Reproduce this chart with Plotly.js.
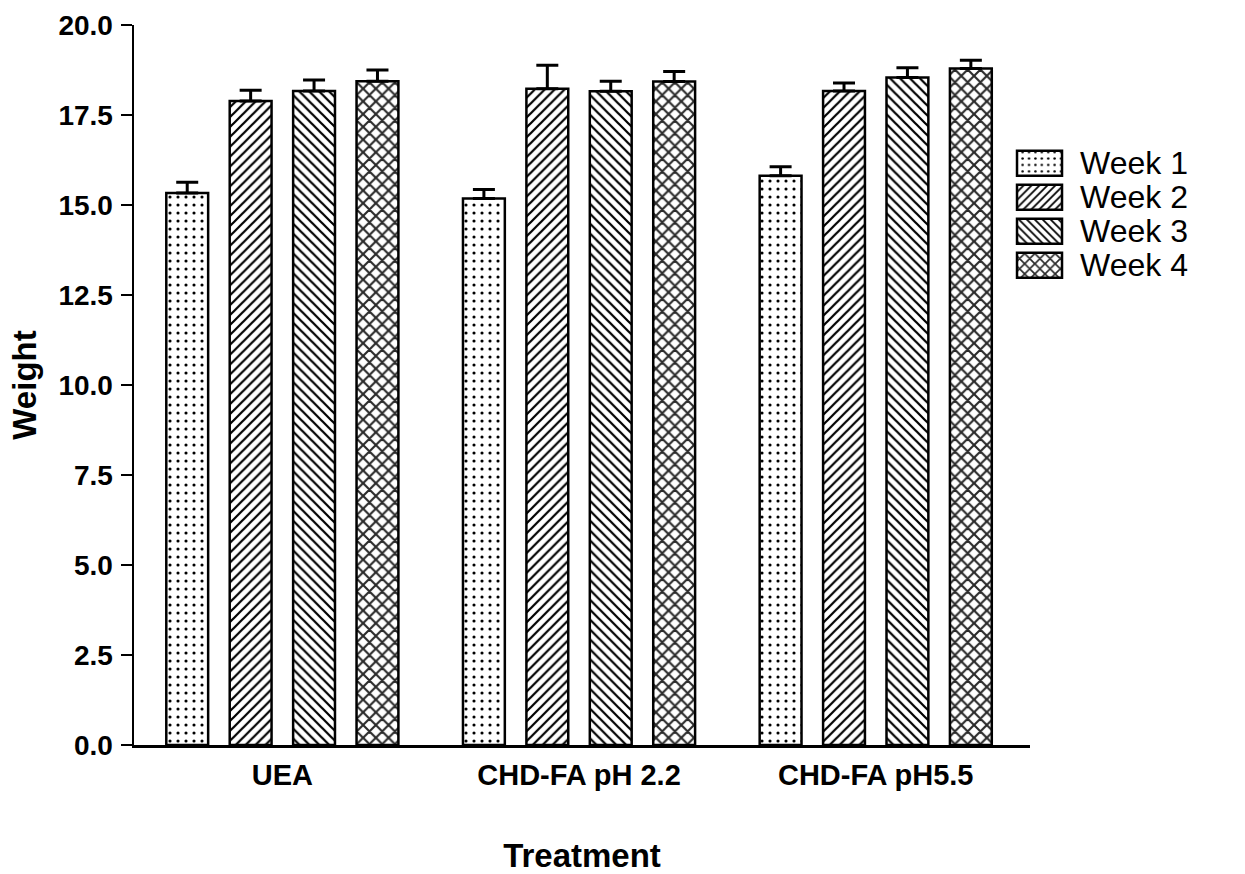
<!DOCTYPE html>
<html>
<head>
<meta charset="utf-8">
<script src="https://cdn.plot.ly/plotly-3.0.1.min.js"></script>
<style>
  html, body { margin: 0; padding: 0; background: #ffffff; }
  #chart { width: 1245px; height: 874px; }
</style>
</head>
<body>
<div id="chart"></div>
<script>
// Treatment groups on the category axis
const treatments = ['UEA', 'CHD-FA pH 2.2', 'CHD-FA pH5.5'];

// Series names
const weekNames = ['Week 1', 'Week 2', 'Week 3', 'Week 4'];

// Mean weight per treatment, one array per week
const week1 = [15.33, 15.18, 15.81];
const week2 = [17.89, 18.23, 18.17];
const week3 = [18.17, 18.16, 18.54];
const week4 = [18.44, 18.43, 18.79];

// Upper error (SEM) per treatment, one array per week
const week1Err = [0.30, 0.25, 0.25];
const week2Err = [0.30, 0.65, 0.22];
const week3Err = [0.30, 0.28, 0.27];
const week4Err = [0.31, 0.28, 0.23];

// Y-axis ticks
const yTicks = [0, 2.5, 5, 7.5, 10, 12.5, 15, 17.5, 20];
const yTickText = ['0.0', '2.5', '5.0', '7.5', '10.0', '12.5', '15.0', '17.5', '20.0'];

const seriesValues = [week1, week2, week3, week4];
const seriesErrors = [week1Err, week2Err, week3Err, week4Err];

// Fill pattern for each week
const patterns = [
  { shape: '.', size: 8, solidity: 0.12, fgcolor: '#000000' },
  { shape: '/', size: 7, solidity: 0.32, fgcolor: '#000000' },
  { shape: '\\', size: 7, solidity: 0.32, fgcolor: '#000000' },
  { shape: 'x', size: 9, solidity: 0.42, fgcolor: '#2a2a2a' }
];

const FONT = 'Liberation Sans, Arial, sans-serif';

const traces = seriesValues.map((vals, i) => ({
  type: 'bar',
  name: weekNames[i],
  x: treatments,
  y: vals,
  marker: {
    color: '#ffffff',
    line: { color: '#000000', width: 2.5 },
    pattern: patterns[i]
  },
  error_y: {
    type: 'data',
    symmetric: false,
    array: seriesErrors[i],
    arrayminus: vals.map(() => 0),
    color: '#000000',
    thickness: 3,
    width: 11
  },
  hoverinfo: 'x+y+name'
}));

const layout = {
  width: 1245,
  height: 874,
  paper_bgcolor: '#ffffff',
  plot_bgcolor: '#ffffff',
  margin: { l: 134, r: 215, t: 25, b: 129, pad: 0 },
  barmode: 'group',
  bargap: 0.145,
  bargroupgap: 0.34,
  showlegend: true,
  font: { family: FONT, color: '#000000' },
  xaxis: {
    type: 'category',
    range: [-0.5, 2.52],
    showline: true,
    linecolor: '#000000',
    linewidth: 2.5,
    ticks: '',
    showgrid: false,
    zeroline: false,
    tickfont: { family: FONT, size: 29, weight: 'bold', color: '#000000' },
    ticklabelstandoff: 3,
    automargin: false,
    title: {
      text: 'Treatment',
      font: { family: FONT, size: 33, weight: 'bold', color: '#000000' },
      standoff: 57
    }
  },
  yaxis: {
    range: [0, 20],
    tickvals: yTicks,
    ticktext: yTickText,
    showline: true,
    linecolor: '#000000',
    linewidth: 2.5,
    ticks: 'outside',
    ticklen: 11,
    tickwidth: 2.5,
    tickcolor: '#000000',
    showgrid: false,
    zeroline: false,
    tickfont: { family: FONT, size: 28, weight: 'bold', color: '#000000' },
    ticklabelstandoff: 2,
    automargin: false,
    title: {
      text: 'Weight',
      font: { family: FONT, size: 33, weight: 'bold', color: '#000000' },
      standoff: 12
    }
  },
  legend: {
    x: 0.9777,
    xanchor: 'left',
    y: 0.848,
    yanchor: 'top',
    bgcolor: 'rgba(0,0,0,0)',
    borderwidth: 0,
    itemwidth: 60,
    font: { family: FONT, size: 32, color: '#000000' },
    traceorder: 'normal'
  }
};

const LEGEND_ROW = 34;   // vertical pitch between legend entries
const SWATCH_W = 45, SWATCH_H = 25, SWATCH_GAP = 18;

function centerY(el) {
  const r = el.getBoundingClientRect();
  return r.top + r.height / 2;
}

// Tighten legend rows to a fixed pitch below the first entry
function packLegend(gd) {
  const items = Array.from(gd.querySelectorAll('.legend .traces'));
  if (!items.length) return;
  const base = centerY(items[0].querySelector('text.legendtext'));
  items.forEach((item, i) => {
    const cy = centerY(item.querySelector('text.legendtext'));
    const m = /translate\(\s*([-\d.e]+)[\s,]+([-\d.e]+)\s*\)/.exec(item.getAttribute('transform') || '');
    const tx = m ? +m[1] : 0;
    const ty = (m ? +m[2] : 0) + (base + i * LEGEND_ROW - cy);
    item.setAttribute('transform', `translate(${tx},${ty})`);
  });
}

// Enlarge the legend swatches to wide rectangles placed just left of each label
function widenSwatches(gd) {
  gd.querySelectorAll('.legend .traces').forEach(item => {
    const path = item.querySelector('.legendpoints path');
    const text = item.querySelector('text.legendtext');
    if (!path || !text) return;
    const pr = path.getBoundingClientRect();
    const tr = text.getBoundingClientRect();
    const cx = pr.left + pr.width / 2;
    const cy = pr.top + pr.height / 2;
    const right = tr.left - SWATCH_GAP - cx;
    const left = right - SWATCH_W;
    const ty = (tr.top + tr.height / 2) - cy;
    const top = ty - SWATCH_H / 2, bottom = ty + SWATCH_H / 2;
    path.setAttribute('d', `M${right},${bottom}H${left}V${top}H${right}Z`);
    path.style.strokeWidth = '2.5px';
  });
}

const gd = document.getElementById('chart');
Plotly.newPlot(gd, traces, layout, { displayModeBar: false, staticPlot: true })
  .then(() => { packLegend(gd); widenSwatches(gd); });
</script>
</body>
</html>
